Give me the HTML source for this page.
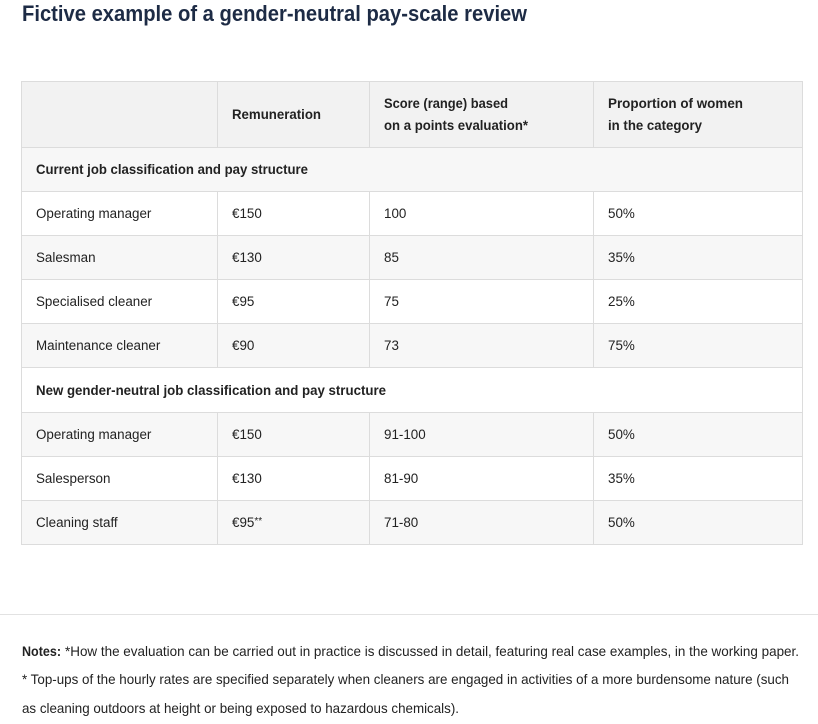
<!DOCTYPE html>
<html>
<head>
<meta charset="utf-8">
<style>
  html,body{margin:0;padding:0;background:#fff;}
  svg{display:block;}
  text{font-family:"Liberation Sans",Arial,sans-serif;}
</style>
</head>
<body>
<svg width="818" height="724" viewBox="0 0 818 724" xmlns="http://www.w3.org/2000/svg">
  <rect x="0" y="0" width="818" height="724" fill="#ffffff"/>
  <!-- Title -->
  <text x="22" y="21" font-size="22" font-weight="bold" fill="#1d2b45" textLength="505" lengthAdjust="spacingAndGlyphs">Fictive example of a gender-neutral pay-scale review</text>

  <!-- Row backgrounds -->
  <rect x="21" y="81" width="782" height="66" fill="#f2f2f2"/>
  <rect x="21" y="147" width="782" height="44" fill="#f7f7f7"/>
  <rect x="21" y="235" width="782" height="44" fill="#f7f7f7"/>
  <rect x="21" y="323" width="782" height="44" fill="#f7f7f7"/>
  <rect x="21" y="412" width="782" height="44" fill="#f7f7f7"/>
  <rect x="21" y="500" width="782" height="45" fill="#f7f7f7"/>

  <!-- Grid lines -->
  <g stroke="#dcdcdc" stroke-width="1" fill="none">
    <rect x="21.5" y="81.5" width="781" height="463"/>
    <line x1="21" y1="147.5" x2="803" y2="147.5"/>
    <line x1="21" y1="191.5" x2="803" y2="191.5"/>
    <line x1="21" y1="235.5" x2="803" y2="235.5"/>
    <line x1="21" y1="279.5" x2="803" y2="279.5"/>
    <line x1="21" y1="323.5" x2="803" y2="323.5"/>
    <line x1="21" y1="367.5" x2="803" y2="367.5"/>
    <line x1="21" y1="412.5" x2="803" y2="412.5"/>
    <line x1="21" y1="456.5" x2="803" y2="456.5"/>
    <line x1="21" y1="500.5" x2="803" y2="500.5"/>
    <!-- column lines header -->
    <line x1="217.5" y1="81" x2="217.5" y2="147"/>
    <line x1="369.5" y1="81" x2="369.5" y2="147"/>
    <line x1="593.5" y1="81" x2="593.5" y2="147"/>
    <!-- column lines block 1 -->
    <line x1="217.5" y1="191" x2="217.5" y2="367"/>
    <line x1="369.5" y1="191" x2="369.5" y2="367"/>
    <line x1="593.5" y1="191" x2="593.5" y2="367"/>
    <!-- column lines block 2 -->
    <line x1="217.5" y1="412" x2="217.5" y2="545"/>
    <line x1="369.5" y1="412" x2="369.5" y2="545"/>
    <line x1="593.5" y1="412" x2="593.5" y2="545"/>
  </g>

  <!-- Header text -->
  <g font-size="13.5" font-weight="bold" fill="#222">
    <text x="232" y="119" textLength="89" lengthAdjust="spacingAndGlyphs">Remuneration</text>
    <text x="384" y="108" textLength="124" lengthAdjust="spacingAndGlyphs">Score (range) based</text>
    <text x="384" y="130" textLength="144" lengthAdjust="spacingAndGlyphs">on a points evaluation*</text>
    <text x="608" y="108" textLength="135" lengthAdjust="spacingAndGlyphs">Proportion of women</text>
    <text x="608" y="130" textLength="94" lengthAdjust="spacingAndGlyphs">in the category</text>
    <text x="36" y="174" textLength="272" lengthAdjust="spacingAndGlyphs">Current job classification and pay structure</text>
    <text x="36" y="395" textLength="350" lengthAdjust="spacingAndGlyphs">New gender-neutral job classification and pay structure</text>
  </g>

  <!-- Data text -->
  <g font-size="13.4" fill="#222">
    <text x="36" y="218">Operating manager</text>
    <text x="232" y="218">€150</text>
    <text x="384" y="218">100</text>
    <text x="608" y="218">50%</text>

    <text x="36" y="262">Salesman</text>
    <text x="232" y="262">€130</text>
    <text x="384" y="262">85</text>
    <text x="608" y="262">35%</text>

    <text x="36" y="306">Specialised cleaner</text>
    <text x="232" y="306">€95</text>
    <text x="384" y="306">75</text>
    <text x="608" y="306">25%</text>

    <text x="36" y="350">Maintenance cleaner</text>
    <text x="232" y="350">€90</text>
    <text x="384" y="350">73</text>
    <text x="608" y="350">75%</text>

    <text x="36" y="439">Operating manager</text>
    <text x="232" y="439">€150</text>
    <text x="384" y="439">91-100</text>
    <text x="608" y="439">50%</text>

    <text x="36" y="483">Salesperson</text>
    <text x="232" y="483">€130</text>
    <text x="384" y="483">81-90</text>
    <text x="608" y="483">35%</text>

    <text x="36" y="527">Cleaning staff</text>
    <text x="232" y="527">€95<tspan font-size="10" dy="-3">**</tspan></text>
    <text x="384" y="527">71-80</text>
    <text x="608" y="527">50%</text>
  </g>

  <!-- Separator -->
  <line x1="0" y1="614.5" x2="818" y2="614.5" stroke="#e2e2e2" stroke-width="1"/>

  <!-- Notes -->
  <g font-size="14" fill="#222">
    <text x="22" y="656" font-weight="bold" textLength="39" lengthAdjust="spacingAndGlyphs">Notes:</text>
    <text x="65" y="656" textLength="734" lengthAdjust="spacingAndGlyphs">*How the evaluation can be carried out in practice is discussed in detail, featuring real case examples, in the working paper.</text>
    <text x="22" y="684" textLength="767" lengthAdjust="spacingAndGlyphs">* Top-ups of the hourly rates are specified separately when cleaners are engaged in activities of a more burdensome nature (such</text>
    <text x="22" y="713" textLength="437" lengthAdjust="spacingAndGlyphs">as cleaning outdoors at height or being exposed to hazardous chemicals).</text>
  </g>
</svg>
</body>
</html>
